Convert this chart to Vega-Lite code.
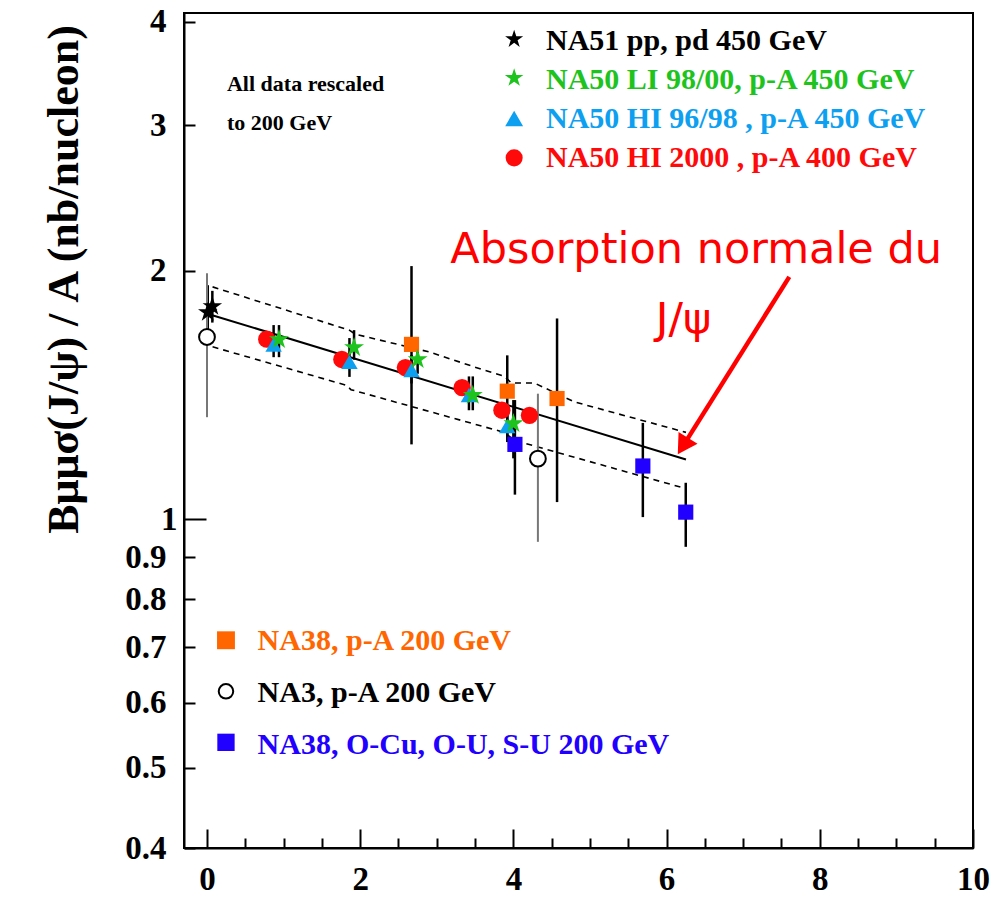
{
  "$schema": "https://vega.github.io/schema/vega-lite/v6.json",
  "width": 789,
  "height": 835,
  "autosize": {"type": "none"},
  "padding": {"left": 184, "top": 13, "right": 31, "bottom": 49},
  "background": "white",
  "config": {
    "view": {"stroke": "black", "strokeWidth": 2},
    "axis": {
      "grid": false,
      "domainColor": "black",
      "domainWidth": 2,
      "tickColor": "black",
      "tickWidth": 2,
      "labelColor": "black",
      "labelFont": "Liberation Serif",
      "labelFontWeight": "bold",
      "labelFontSize": 33,
      "labelOverlap": false,
      "labelFlush": false,
      "labelBound": false
    }
  },
  "resolve": {"scale": {"size": "independent"}},
  "datasets": {
    "fit": [
      {"x": 0.069, "y": 1.766},
      {"x": 6.253, "y": 1.181}
    ],
    "band": [
      {"side": "upper", "x": 0.073, "y": 1.911},
      {"side": "upper", "x": 1.858, "y": 1.694},
      {"side": "upper", "x": 1.936, "y": 1.675},
      {"side": "upper", "x": 2.902, "y": 1.594},
      {"side": "upper", "x": 3.62, "y": 1.515},
      {"side": "upper", "x": 3.881, "y": 1.49},
      {"side": "upper", "x": 3.973, "y": 1.462},
      {"side": "upper", "x": 4.273, "y": 1.462},
      {"side": "upper", "x": 4.795, "y": 1.387},
      {"side": "upper", "x": 6.253, "y": 1.274},
      {"side": "lower", "x": 0.073, "y": 1.617},
      {"side": "lower", "x": 1.815, "y": 1.453},
      {"side": "lower", "x": 1.88, "y": 1.435},
      {"side": "lower", "x": 3.881, "y": 1.274},
      {"side": "lower", "x": 4.012, "y": 1.246},
      {"side": "lower", "x": 6.253, "y": 1.089}
    ],
    "pts": [
      {"series": "NA3", "x": 0.0, "y": 1.662, "lo": 1.329, "hi": 1.985},
      {"series": "NA3", "x": 4.32, "y": 1.184, "lo": 0.939, "hi": 1.419},
      {"series": "NA50HI9698", "x": 0.87, "y": 1.627, "lo": 1.571, "hi": 1.718},
      {"series": "NA50HI9698", "x": 1.86, "y": 1.55, "lo": 1.487, "hi": 1.657},
      {"series": "NA50HI9698", "x": 2.67, "y": 1.515, "lo": 1.46, "hi": 1.58},
      {"series": "NA50HI9698", "x": 3.42, "y": 1.413, "lo": 1.355, "hi": 1.489},
      {"series": "NA50HI9698", "x": 3.92, "y": 1.296, "lo": 1.24, "hi": 1.36},
      {"series": "NA50HI2000", "x": 0.78, "y": 1.652},
      {"series": "NA50HI2000", "x": 1.76, "y": 1.561},
      {"series": "NA50HI2000", "x": 2.59, "y": 1.526},
      {"series": "NA50HI2000", "x": 3.33, "y": 1.443},
      {"series": "NA50HI2000", "x": 3.85, "y": 1.355},
      {"series": "NA50HI2000", "x": 4.21, "y": 1.336},
      {"series": "NA50LI", "x": 0.94, "y": 1.65, "lo": 1.571, "hi": 1.718},
      {"series": "NA50LI", "x": 1.92, "y": 1.614, "lo": 1.56, "hi": 1.694},
      {"series": "NA50LI", "x": 2.75, "y": 1.561, "lo": 1.5, "hi": 1.62},
      {"series": "NA50LI", "x": 3.47, "y": 1.413, "lo": 1.355, "hi": 1.489},
      {"series": "NA50LI", "x": 4.0, "y": 1.306, "lo": 1.185, "hi": 1.394},
      {"series": "NA38pA", "x": 2.67, "y": 1.628, "lo": 1.232, "hi": 2.025},
      {"series": "NA38pA", "x": 3.92, "y": 1.429, "lo": 1.246, "hi": 1.579},
      {"series": "NA38pA", "x": 4.57, "y": 1.4, "lo": 1.049, "hi": 1.75},
      {"series": "NA38AB", "x": 4.02, "y": 1.232, "lo": 1.071, "hi": 1.394},
      {"series": "NA38AB", "x": 5.69, "y": 1.16, "lo": 1.006, "hi": 1.308},
      {"series": "NA38AB", "x": 6.25, "y": 1.02, "lo": 0.926, "hi": 1.107},
      {"series": "NA51", "x": 0.01, "y": 1.78, "lo": 1.69, "hi": 1.92},
      {"series": "NA51", "x": 0.07, "y": 1.81, "lo": 1.73, "hi": 1.89}
    ],
    "legsym": [
      {"series": "NA51", "x": 4.01, "y": 3.811},
      {"series": "NA50LI", "x": 4.01, "y": 3.421},
      {"series": "NA50HI9698", "x": 4.01, "y": 3.056},
      {"series": "NA50HI2000", "x": 4.01, "y": 2.738},
      {"series": "NA38pA", "x": 0.248, "y": 0.7137},
      {"series": "NA3", "x": 0.248, "y": 0.619},
      {"series": "NA38AB", "x": 0.248, "y": 0.537}
    ],
    "legtxt": [
      {"series": "NA51", "label": "NA51 pp, pd 450 GeV", "x": 4.426, "y": 3.703},
      {"series": "NA50LI", "label": "NA50 LI 98/00, p-A 450 GeV", "x": 4.426, "y": 3.313},
      {"series": "NA50HI9698", "label": "NA50 HI 96/98 , p-A 450 GeV", "x": 4.426, "y": 2.972},
      {"series": "NA50HI2000", "label": "NA50 HI 2000 , p-A 400 GeV", "x": 4.426, "y": 2.67},
      {"series": "NA38pA", "label": "NA38, p-A 200 GeV", "x": 0.661, "y": 0.694},
      {"series": "NA3", "label": "NA3, p-A 200 GeV", "x": 0.661, "y": 0.601},
      {"series": "NA38AB", "label": "NA38, O-Cu, O-U, S-U 200 GeV", "x": 0.661, "y": 0.52}
    ],
    "notes": [
      {"kind": "small", "text": "All data rescaled", "x": 0.261, "y": 3.3},
      {"kind": "small", "text": "to 200 GeV", "x": 0.261, "y": 2.958},
      {"kind": "red", "text": "Absorption normale du", "x": 3.176, "y": 2.041},
      {"kind": "red", "text": "J/ψ", "x": 5.86, "y": 1.68}
    ],
    "arrow": [
      {"x": 7.602, "y": 1.965, "x2": 6.213, "y2": 1.226}
    ]
  },
  "encoding": {
    "x": {
      "field": "x",
      "type": "quantitative",
      "scale": {"domain": [-0.3, 10], "nice": false, "zero": false},
      "axis": {
        "title": null,
        "values": [0, 0.5, 1, 1.5, 2, 2.5, 3, 3.5, 4, 4.5, 5, 5.5, 6, 6.5, 7, 7.5, 8, 8.5, 9, 9.5, 10],
        "format": "~g",
        "labelExpr": "datum.value % 2 === 0 ? datum.label : ''",
        "tickSize": {"condition": {"test": "datum.value % 2 === 0", "value": -19}, "value": -10},
        "labelPadding": 34
      }
    },
    "y": {
      "field": "y",
      "type": "quantitative",
      "scale": {"type": "log", "domain": [0.4, 4.1], "nice": false},
      "axis": {
        "title": "Bμμσ(J/ψ) / A (nb/nucleon)",
        "titleFont": "Liberation Serif",
        "titleFontWeight": "bold",
        "titleFontSize": 44,
        "titleColor": "black",
        "titleAngle": -90,
        "titleAlign": "center",
        "titleBaseline": "middle",
        "titleX": -120,
        "titleY": 266,
        "values": [0.4, 0.5, 0.6, 0.7, 0.8, 0.9, 1, 2, 3, 4],
        "format": "~g",
        "tickSize": {"condition": {"test": "datum.value === 1", "value": -22}, "value": -11},
        "labelPadding": 29
      }
    }
  },
  "layer": [
    {
      "data": {"name": "fit"},
      "mark": {"type": "line", "color": "black", "strokeWidth": 2}
    },
    {
      "data": {"name": "band"},
      "mark": {"type": "line", "color": "black", "strokeWidth": 1.6, "strokeDash": [6, 5]},
      "encoding": {"detail": {"field": "side"}}
    },
    {
      "data": {"name": "pts"},
      "transform": [{"filter": "isValid(datum.lo) && datum.series !== 'NA3'"}],
      "mark": {"type": "rule", "color": "black", "strokeWidth": 2.5},
      "encoding": {
        "y": {"field": "lo", "type": "quantitative"},
        "y2": {"field": "hi"}
      }
    },
    {
      "data": {"name": "pts"},
      "transform": [{"filter": "datum.series === 'NA3'"}],
      "mark": {"type": "rule", "color": "#777777", "strokeWidth": 2},
      "encoding": {
        "y": {"field": "lo", "type": "quantitative"},
        "y2": {"field": "hi"}
      }
    },
    {
      "data": {"name": "pts"},
      "transform": [{"filter": "datum.series !== 'NA3'"}],
      "mark": {"type": "point", "filled": true, "opacity": 1},
      "encoding": {
        "shape": {"field": "series", "legend": null, "scale": {
          "domain": ["NA51", "NA50LI", "NA50HI9698", "NA50HI2000", "NA38pA", "NA3", "NA38AB"],
          "range": [
            "M0,-1L0.2245,-0.309L0.951,-0.309L0.363,0.118L0.588,0.809L0,0.382L-0.588,0.809L-0.363,0.118L-0.951,-0.309L-0.2245,-0.309Z",
            "M0,-1L0.2245,-0.309L0.951,-0.309L0.363,0.118L0.588,0.809L0,0.382L-0.588,0.809L-0.363,0.118L-0.951,-0.309L-0.2245,-0.309Z",
            "triangle-up", "circle", "square", "circle", "square"]}},
        "color": {"field": "series", "legend": null, "scale": {
          "domain": ["NA51", "NA50LI", "NA50HI9698", "NA50HI2000", "NA38pA", "NA3", "NA38AB"],
          "range": ["#000000", "#1ec31e", "#0ea0f0", "#ff0a0a", "#ff6600", "#000000", "#2200ff"]}},
        "size": {"field": "series", "legend": null, "scale": {
          "type": "ordinal",
          "domain": ["NA51", "NA50LI", "NA50HI9698", "NA50HI2000", "NA38pA", "NA3", "NA38AB"],
          "range": [420, 440, 270, 300, 230, 260, 230]}},
        "order": {"field": "series", "sort": "ascending"}
      }
    },
    {
      "data": {"name": "pts"},
      "transform": [{"filter": "datum.series === 'NA3'"}],
      "mark": {"type": "point", "shape": "circle", "filled": true, "fill": "white", "stroke": "black", "strokeWidth": 2, "size": 250, "opacity": 1}
    },
    {
      "data": {"name": "legsym"},
      "transform": [{"filter": "datum.series !== 'NA3'"}],
      "mark": {"type": "point", "filled": true, "opacity": 1},
      "encoding": {
        "shape": {"field": "series", "legend": null},
        "color": {"field": "series", "legend": null},
        "size": {"field": "series", "legend": null, "scale": {
          "type": "ordinal",
          "domain": ["NA51", "NA50LI", "NA50HI9698", "NA50HI2000", "NA38pA", "NA3", "NA38AB"],
          "range": [360, 380, 320, 290, 320, 250, 300]}}
      }
    },
    {
      "data": {"name": "legsym"},
      "transform": [{"filter": "datum.series === 'NA3'"}],
      "mark": {"type": "point", "shape": "circle", "filled": true, "fill": "white", "stroke": "black", "strokeWidth": 2, "size": 210, "opacity": 1}
    },
    {
      "data": {"name": "legtxt"},
      "mark": {"type": "text", "font": "Liberation Serif", "fontWeight": "bold", "fontSize": 30, "align": "left", "baseline": "alphabetic"},
      "encoding": {
        "text": {"field": "label"},
        "color": {"field": "series", "legend": null}
      }
    },
    {
      "data": {"name": "notes"},
      "transform": [{"filter": "datum.kind === 'small'"}],
      "mark": {"type": "text", "font": "Liberation Serif", "fontWeight": "bold", "fontSize": 22, "align": "left", "baseline": "alphabetic", "color": "black"},
      "encoding": {"text": {"field": "text"}}
    },
    {
      "data": {"name": "notes"},
      "transform": [{"filter": "datum.kind === 'red'"}],
      "mark": {"type": "text", "font": "DejaVu Sans", "fontSize": 43, "align": "left", "baseline": "alphabetic", "color": "#ff0000"},
      "encoding": {"text": {"field": "text"}}
    },
    {
      "data": {"name": "arrow"},
      "mark": {"type": "rule", "color": "#ff0000", "strokeWidth": 4.5},
      "encoding": {
        "x2": {"field": "x2"},
        "y2": {"field": "y2"}
      }
    },
    {
      "data": {"name": "arrow"},
      "mark": {"type": "point", "shape": "triangle-up", "filled": true, "color": "#ff0000", "opacity": 1, "size": 500, "angle": 212},
      "encoding": {
        "x": {"field": "x2", "type": "quantitative"},
        "y": {"field": "y2", "type": "quantitative"}
      }
    }
  ]
}
